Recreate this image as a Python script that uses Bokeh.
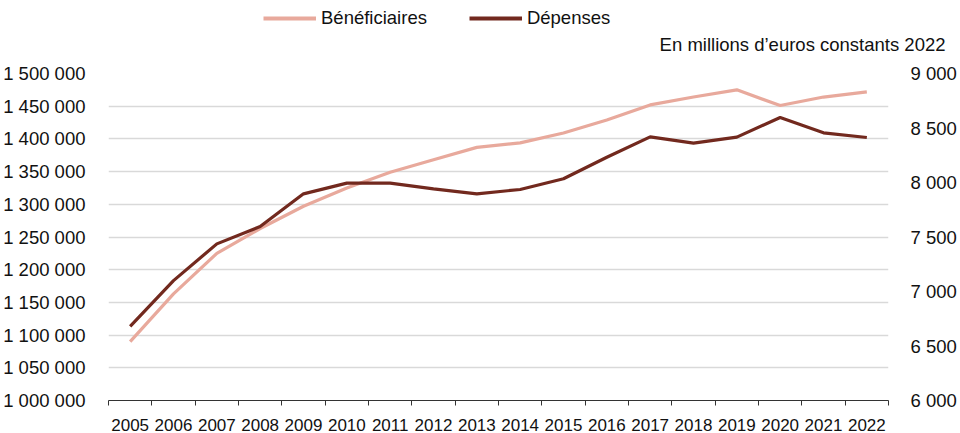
from bokeh.plotting import figure
from bokeh.models import Range1d, LinearAxis, FixedTicker, Legend, LegendItem, Label
from bokeh.embed import file_html
from bokeh.resources import INLINE

years = [2005, 2006, 2007, 2008, 2009, 2010, 2011, 2012, 2013, 2014,
         2015, 2016, 2017, 2018, 2019, 2020, 2021, 2022]
beneficiaires = [1090000, 1163000, 1225000, 1263000, 1297000, 1325000, 1349000,
                 1368000, 1387000, 1394000, 1409000, 1429000, 1452000, 1464000,
                 1475000, 1451000, 1464000, 1472000]
depenses = [6680, 7100, 7437, 7596, 7896, 7994, 7995, 7942, 7896, 7936,
            8034, 8232, 8419, 8361, 8416, 8596, 8456, 8413]
left_ticks = list(range(1000000, 1500001, 50000))
right_ticks = list(range(6000, 9001, 500))
series_names = ["Bénéficiaires", "Dépenses"]
unit_note = "En millions d\u2019euros constants 2022"

PINK = "#E8A99C"
DARK = "#72291E"
FONT = "Liberation Sans"
TXT = "#111111"

W = 960
HEAD_H = 61                       # header strip holding legend and unit note
MAIN_H = 433 - HEAD_H
LEFT, RIGHT, TOP, BOTTOM = 107, 72, 12, 33


def fmt(v):
    return f"{v:,}".replace(",", " ")


xs = list(range(len(years)))

# ---------- main chart ----------
p = figure(width=W, height=MAIN_H, output_backend="svg", toolbar_location=None,
           x_range=Range1d(-0.5, len(years) - 0.5),
           y_range=Range1d(left_ticks[0], left_ticks[-1]),
           min_border_left=LEFT, min_border_right=RIGHT, min_border_top=TOP,
           min_border_bottom=BOTTOM, outline_line_color=None,
           background_fill_color="white", border_fill_color="white")
p.extra_y_ranges = {"dep": Range1d(right_ticks[0], right_ticks[-1])}

# x axis: labels at category centres, ticks at category boundaries
p.xaxis.ticker = FixedTicker(ticks=xs, minor_ticks=[i - 0.5 for i in range(len(years) + 1)])
p.xaxis.major_label_overrides = {i: str(y) for i, y in zip(xs, years)}
p.xaxis.major_tick_out = 0
p.xaxis.major_tick_in = 0
p.xaxis.minor_tick_out = 5
p.xaxis.minor_tick_in = 0
p.xaxis.minor_tick_line_color = "#333333"
p.xaxis.axis_line_color = "#333333"
p.xaxis.major_label_text_font = FONT
p.xaxis.major_label_text_font_size = "17px"
p.xaxis.major_label_text_color = TXT
p.xaxis.major_label_standoff = 13

# left axis
p.yaxis.ticker = FixedTicker(ticks=left_ticks)
p.yaxis.major_label_overrides = {v: fmt(v) for v in left_ticks}
p.yaxis.axis_line_color = None
p.yaxis.major_tick_line_color = None
p.yaxis.minor_tick_line_color = None
p.yaxis.major_label_text_font = FONT
p.yaxis.major_label_text_font_size = "18.5px"
p.yaxis.major_label_text_color = TXT
p.yaxis.major_label_standoff = 17

# right axis
ra = LinearAxis(y_range_name="dep", ticker=FixedTicker(ticks=right_ticks))
ra.major_label_overrides = {v: fmt(v) for v in right_ticks}
ra.axis_line_color = None
ra.major_tick_line_color = None
ra.minor_tick_line_color = None
ra.major_label_text_font = FONT
ra.major_label_text_font_size = "18.5px"
ra.major_label_text_color = TXT
ra.major_label_standoff = 16
p.add_layout(ra, "right")

p.xgrid.grid_line_color = None
p.ygrid.ticker = FixedTicker(ticks=left_ticks)
p.ygrid.grid_line_color = "#D9D9D9"
p.ygrid.grid_line_width = 1.3

p.line(xs, beneficiaires, line_color=PINK, line_width=3.2)
p.line(xs, depenses, y_range_name="dep", line_color=DARK, line_width=3.2)

# ---------- header: legend + unit note (separate root, full-width frame) ----------
h = figure(width=W, height=HEAD_H, output_backend="svg", toolbar_location=None,
           x_range=Range1d(0, 1), y_range=Range1d(0, 1),
           x_axis_type=None, y_axis_type=None,
           min_border_left=0, min_border_right=0, min_border_top=0,
           min_border_bottom=0, outline_line_color=None,
           background_fill_color="white", border_fill_color="white")
h.xgrid.grid_line_color = None
h.ygrid.grid_line_color = None
# zero-length key lines: they only feed the legend's line swatches
kb = h.line([0, 0], [0, 0], line_color=PINK, line_width=4)
kd = h.line([0, 0], [0, 0], line_color=DARK, line_width=4)

legend = Legend(items=[LegendItem(label=series_names[0], renderers=[kb]),
                       LegendItem(label=series_names[1], renderers=[kd])],
                orientation="horizontal", location=(263, HEAD_H - 28.5),
                glyph_width=53, glyph_height=20, label_height=20,
                label_standoff=5, spacing=42,
                padding=0, margin=0, border_line_color=None,
                background_fill_alpha=0,
                label_text_font=FONT, label_text_font_size="18.5px",
                label_text_color=TXT)
h.add_layout(legend, "center")

note = Label(x=945, y=HEAD_H - 44, x_units="screen", y_units="screen",
             text=unit_note, text_align="right", text_baseline="middle",
             text_font=FONT, text_font_size="18.5px", text_color=TXT)
h.add_layout(note)

open("out.html", "w").write(file_html([h, p], INLINE))
